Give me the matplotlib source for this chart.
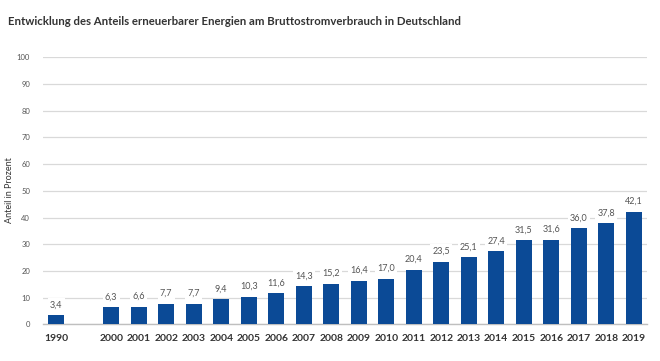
import matplotlib
matplotlib.use("Agg")
import matplotlib.pyplot as plt
import numpy as np

years = ["1990", "", "2000", "2001", "2002", "2003", "2004", "2005", "2006", "2007",
         "2008", "2009", "2010", "2011", "2012", "2013", "2014", "2015", "2016",
         "2017", "2018", "2019"]
anteil = [3.4, None, 6.3, 6.6, 7.7, 7.7, 9.4, 10.3, 11.6, 14.3, 15.2, 16.4, 17.0,
          20.4, 23.5, 25.1, 27.4, 31.5, 31.6, 36.0, 37.8, 42.1]

plt.rcParams['font.family'] = ['Lato', 'DejaVu Sans']

fig = plt.figure(figsize=(6.6, 3.61), dpi=100)
ax = fig.add_axes([0.0644, 0.1017, 0.9166, 0.7393])

x = np.arange(len(years))
for i, v in enumerate(anteil):
    if v is None:
        continue
    ax.bar(x[i], v, width=0.58, color="#0b4a96", zorder=3)
    ax.text(x[i], v + 2.2, f"{v:.1f}".replace(".", ","), ha="center", va="bottom",
            fontsize=6.5, color="#555555", zorder=4,
            bbox=dict(boxstyle="square,pad=0.25", fc="white", ec="none"))

ax.set_xlim(-0.5, len(years) - 0.5)
ax.set_ylim(0, 100)
ax.set_yticks(np.arange(0, 101, 10))
ax.set_yticklabels([str(t) for t in range(0, 101, 10)], fontsize=5.5, color="#555555")
ax.set_xticks(x)
ax.set_xticklabels(years, fontsize=7.5, fontweight="bold", color="#333333")
ax.tick_params(axis="both", length=0)
ax.tick_params(axis="x", pad=7)
ax.tick_params(axis="y", pad=9)
ax.grid(axis="y", color="#d9d9d9", linewidth=0.9, zorder=0)
for s in ["top", "right", "left"]:
    ax.spines[s].set_visible(False)
ax.spines["bottom"].set_color("#bfbfbf")
ax.spines["bottom"].set_linewidth(1.0)

fig.text(10 / 660, 1 - 190 / 361, "Anteil in Prozent", rotation=90, fontsize=6.5,
         color="#333333", ha="center", va="center")

fig.text(0.012, 0.955, "Entwicklung des Anteils erneuerbarer Energien am Bruttostromverbrauch in Deutschland",
         fontsize=8.2, fontweight="bold", color="#333333", ha="left", va="top")

fig.savefig("out.png", dpi=100)
